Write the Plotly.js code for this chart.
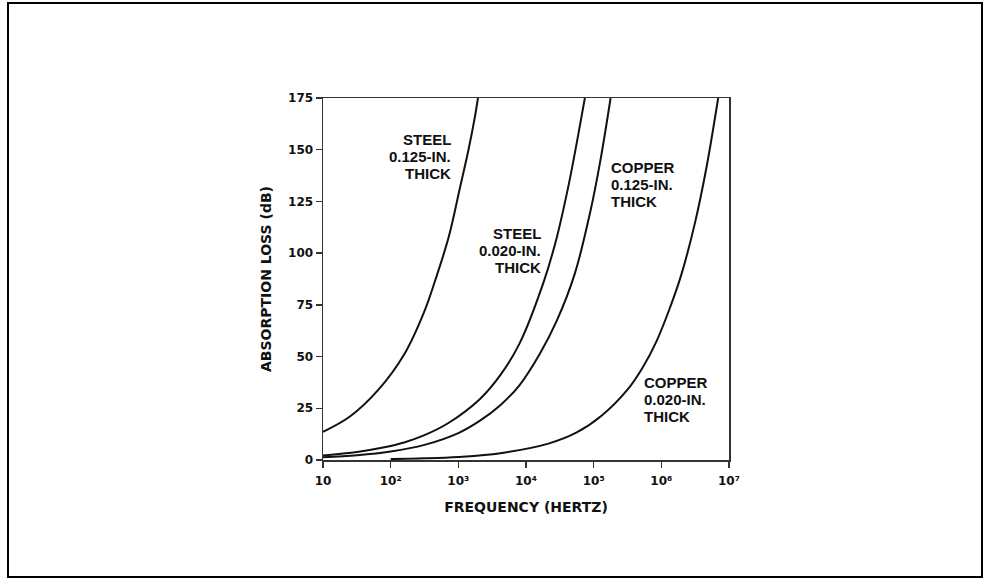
<!DOCTYPE html>
<html><head><meta charset="utf-8">
<script src="https://cdn.plot.ly/plotly-3.0.1.min.js"></script>
<style>
html,body{margin:0;padding:0;background:#fff;}
#chart{width:984px;height:579px;}
#frame{position:absolute;left:7px;top:2px;width:972px;height:572px;border:2px solid #000;pointer-events:none;}
</style>
</head><body>
<div id="chart"></div><div id="frame"></div>
<script>
// Frequency (Hz) and absorption loss (dB)
const steel125F = [10, 25, 66, 158, 316, 457, 724, 1047, 1413, 1738, 1950];
const steel125A = [13.6, 21, 34, 51, 72, 87, 108, 131, 150, 165, 175];

const steel020F = [10, 32, 74, 158, 316, 724, 2090, 4170, 7940, 18200, 28200, 42700, 57500, 74100];
const steel020A = [2.2, 3.9, 5.9, 8.5, 12, 18, 29.5, 41, 56, 86, 107, 133, 155, 175];

const copper125F = [10, 32, 100, 316, 1000, 2090, 4170, 7940, 15800, 28200, 52500, 89100, 126000, 178000];
const copper125A = [1.3, 2.3, 4.1, 7.3, 13, 19, 26.5, 36, 51, 67, 90, 120, 145, 175];

const copper020F = [100, 316, 1000, 4170, 21400, 56200, 132000, 316000, 525000, 851000, 1320000, 1950000, 3160000, 4680000, 6920000];
const copper020A = [0.43, 0.8, 1.5, 3.3, 7.9, 13.3, 21.5, 34, 44.5, 57.5, 73, 89, 115, 142, 175];

const xTickVals = [10, 100, 1000, 10000, 100000, 1000000, 10000000];
const xTickText = ['10', '10²', '10³', '10⁴', '10⁵', '10⁶', '10⁷'];
const yTickVals = [0, 25, 50, 75, 100, 125, 150, 175];

// Curve labels: three lines each, anchored in data coordinates (log10 Hz, dB)
const labelLines = [
  ['STEEL', '0.125-IN.', 'THICK'],
  ['STEEL', '0.020-IN.', 'THICK'],
  ['COPPER', '0.125-IN.', 'THICK'],
  ['COPPER', '0.020-IN.', 'THICK']
];
const labelX = [2.925, 4.25, 5.22, 5.71];
const labelY = [146.6, 101.2, 133, 29.1];
const labelSide = ['right', 'right', 'left', 'left'];

const lineStyle = {color: '#111', width: 2, shape: 'spline', smoothing: 1};
const mk = (x, y, name) => ({x: x, y: y, name: name, type: 'scatter', mode: 'lines', line: lineStyle});

const data = [
  mk(steel125F, steel125A, 'Steel 0.125 in.'),
  mk(steel020F, steel020A, 'Steel 0.020 in.'),
  mk(copper125F, copper125A, 'Copper 0.125 in.'),
  mk(copper020F, copper020A, 'Copper 0.020 in.')
];

const tickFont = {family: 'DejaVu Sans', size: 12, color: '#111', weight: 'bold'};
const titleFont = {family: 'DejaVu Sans', size: 14, color: '#111', weight: 'bold'};
const annFont = {family: 'Liberation Sans', size: 15, color: '#111', weight: 'bold'};

const annotations = [];
labelLines.forEach((lines, i) => {
  lines.forEach((t, j) => {
    annotations.push({
      text: t, x: labelX[i], y: labelY[i], xref: 'x', yref: 'y',
      xanchor: labelSide[i], yanchor: 'middle', align: labelSide[i],
      yshift: (1 - j) * 17, showarrow: false, font: annFont
    });
  });
});

const layout = {
  width: 984, height: 579, autosize: false,
  margin: {l: 323, r: 255, t: 98, b: 119, pad: 0},
  paper_bgcolor: '#fff', plot_bgcolor: '#fff',
  showlegend: false,
  xaxis: {
    type: 'log', range: [1, 7],
    tickvals: xTickVals, ticktext: xTickText,
    ticks: 'outside', ticklen: 6, tickwidth: 1.5, tickcolor: '#333',
    ticklabelstandoff: 3,
    showline: true, linecolor: '#333', linewidth: 1.5, mirror: true,
    showgrid: false, zeroline: false,
    tickfont: tickFont,
    title: {text: 'FREQUENCY (HERTZ)', font: titleFont, standoff: 15}
  },
  yaxis: {
    range: [0, 175],
    tickvals: yTickVals,
    ticks: 'outside', ticklen: 6, tickwidth: 1.5, tickcolor: '#333',
    showline: true, linecolor: '#333', linewidth: 1.5, mirror: true,
    showgrid: false, zeroline: false,
    tickfont: tickFont,
    title: {text: 'ABSORPTION LOSS (dB)', font: titleFont, standoff: 13}
  },
  annotations: annotations
};

Plotly.newPlot('chart', data, layout, {displayModeBar: false, staticPlot: true});
</script>
</body></html>
